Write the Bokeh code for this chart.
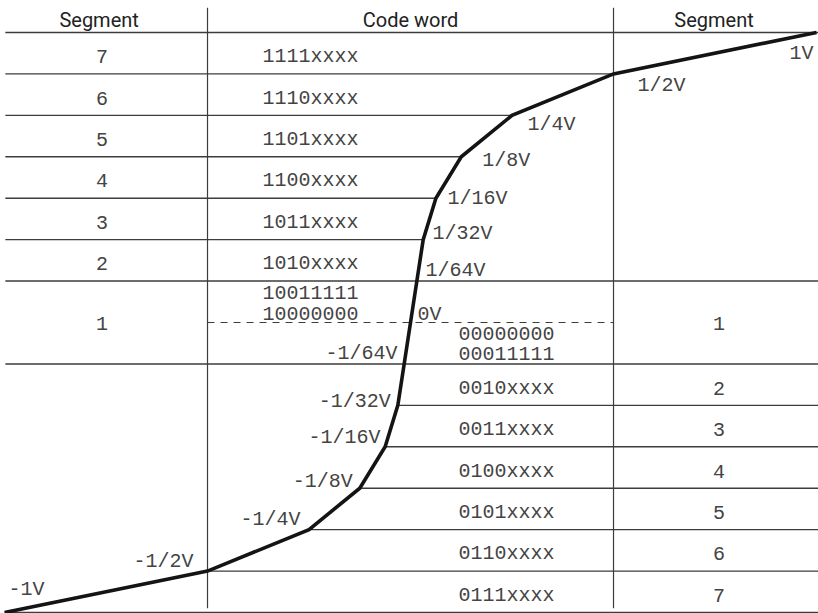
from bokeh.plotting import figure
from bokeh.models import ColumnDataSource, Range1d
from bokeh.core.properties import value
from bokeh.embed import file_html
from bokeh.resources import INLINE

# ---------------- data ----------------
volts = [-1, -1/2, -1/4, -1/8, -1/16, -1/32, -1/64, 0, 1/64, 1/32, 1/16, 1/8, 1/4, 1/2, 1]
levels = [-7, -6, -5, -4, -3, -2, -1, 0, 1, 2, 3, 4, 5, 6, 7]
volt_labels = ["-1V", "-1/2V", "-1/4V", "-1/8V", "-1/16V", "-1/32V", "-1/64V", "0V",
               "1/64V", "1/32V", "1/16V", "1/8V", "1/4V", "1/2V", "1V"]

upper_segments = [7, 6, 5, 4, 3, 2]
upper_codes = ["1111xxxx", "1110xxxx", "1101xxxx", "1100xxxx", "1011xxxx", "1010xxxx"]
lower_segments = [2, 3, 4, 5, 6, 7]
lower_codes = ["0010xxxx", "0011xxxx", "0100xxxx", "0101xxxx", "0110xxxx", "0111xxxx"]
seg1_pos_codes = ["10011111", "10000000"]
seg1_neg_codes = ["00000000", "00011111"]
headers = ["Segment", "Code word", "Segment"]

# ---------------- layout / style ----------------
X0, X1 = -1.0099, 1.0049
Y0, Y1 = -7.024, 7.772
LINE_L, LINE_R = -0.998, 1.01
COL_L, COL_R = -0.5, 0.5
SEG_X_L, SEG_X_R = -0.76, 0.76
CODE_X_L, CODE_X_R = -0.3645, 0.118
HEAD_X = [-0.767, 0.0, 0.7475]
HEAD_Y = 7.3
MONO = "Liberation Mono"
MONO_SIZE = "20px"
TXT_COL = "#444444"
GRID_COL = "#3c3c3c"

lvl = dict(zip(levels, volts))

p = figure(width=818, height=613, x_range=Range1d(X0, X1), y_range=Range1d(Y0, Y1),
           output_backend="svg", toolbar_location=None, min_border=0,
           x_axis_location=None, y_axis_location=None)
p.grid.visible = False
p.outline_line_color = None
p.background_fill_color = "white"
p.border_fill_color = "white"

# horizontal rules
hx0, hx1, hy = [], [], []
for s in levels:
    if s == 0:
        continue
    if abs(s) in (1, 7):
        a, b = LINE_L, LINE_R
    elif s > 0:
        a, b = LINE_L, lvl[s]
    else:
        a, b = lvl[s], LINE_R
    hx0.append(a); hx1.append(b); hy.append(s)
p.segment(x0=hx0, x1=hx1, y0=hy, y1=hy, line_color=GRID_COL, line_width=1.4)

# vertical rules
p.segment(x0=[COL_L, COL_R], x1=[COL_L, COL_R], y0=[7.6, 7.6], y1=[-6.9, -6.9],
          line_color=GRID_COL, line_width=1.2)

# dashed zero line
p.segment(x0=[COL_L], x1=[COL_R], y0=[0], y1=[0], line_color=GRID_COL,
          line_width=1.1, line_dash="7 6")

# companding curve
p.line(volts, levels, line_color="#141414", line_width=3.6, line_join="miter")

# curve labels
lab_align = ["left"] + ["right"] * 6 + ["left"] * 7 + ["right"]
lab_dx = [4, -14, -8.5, -7, -4.6, -7, -6.7, 7, 8.7, 9.3, 11.6, 21, 15.5, 24, -3]
lab_dy = [-23, -9.5, -10, -7, -9, -4, -10, -8, -10.6, -6, 0, 4, 9, 11.6, 21]
src = ColumnDataSource(dict(x=volts, y=levels, t=volt_labels, a=lab_align, dx=lab_dx, dy=lab_dy))
p.text(x="x", y="y", text="t", text_align="a", x_offset="dx", y_offset="dy",
       text_baseline="middle", text_font=value(MONO), text_font_size=MONO_SIZE,
       text_color=TXT_COL, source=src)

# header
p.text(x=HEAD_X, y=[HEAD_Y] * 3, text=headers, text_align="center",
       text_baseline="middle", text_font=value("Roboto"), text_font_size="20px",
       text_color="#222222")

# segment numbers and code words, rows
up_y = [s - 0.5 for s in upper_segments]
lo_y = [-(s - 0.5) for s in lower_segments]
p.text(x=[SEG_X_L] * len(upper_segments), y=up_y, text=[str(s) for s in upper_segments],
       text_align="center", text_baseline="middle", y_offset=3.5,
       text_font=value(MONO), text_font_size=MONO_SIZE, text_color=TXT_COL)
p.text(x=[CODE_X_L] * len(upper_codes), y=up_y, text=upper_codes,
       text_align="left", text_baseline="middle", y_offset=3.5,
       text_font=value(MONO), text_font_size=MONO_SIZE, text_color=TXT_COL)
p.text(x=[SEG_X_R] * len(lower_segments), y=lo_y, text=[str(s) for s in lower_segments],
       text_align="center", text_baseline="middle", y_offset=3.5,
       text_font=value(MONO), text_font_size=MONO_SIZE, text_color=TXT_COL)
p.text(x=[CODE_X_R] * len(lower_codes), y=lo_y, text=lower_codes,
       text_align="left", text_baseline="middle", y_offset=3.5,
       text_font=value(MONO), text_font_size=MONO_SIZE, text_color=TXT_COL)

# segment 1 (straddles zero)
p.text(x=[SEG_X_L, SEG_X_R], y=[0, 0], text=["1", "1"], text_align="center",
       text_baseline="middle", y_offset=1,
       text_font=value(MONO), text_font_size=MONO_SIZE, text_color=TXT_COL)
p.text(x=[CODE_X_L] * 2, y=[0, 0], text=seg1_pos_codes, text_align="left",
       text_baseline="middle", y_offset=[-30, -9],
       text_font=value(MONO), text_font_size=MONO_SIZE, text_color=TXT_COL)
p.text(x=[CODE_X_R] * 2, y=[0, 0], text=seg1_neg_codes, text_align="left",
       text_baseline="middle", y_offset=[11, 31],
       text_font=value(MONO), text_font_size=MONO_SIZE, text_color=TXT_COL)

open("out.html", "w").write(file_html(p, INLINE))
